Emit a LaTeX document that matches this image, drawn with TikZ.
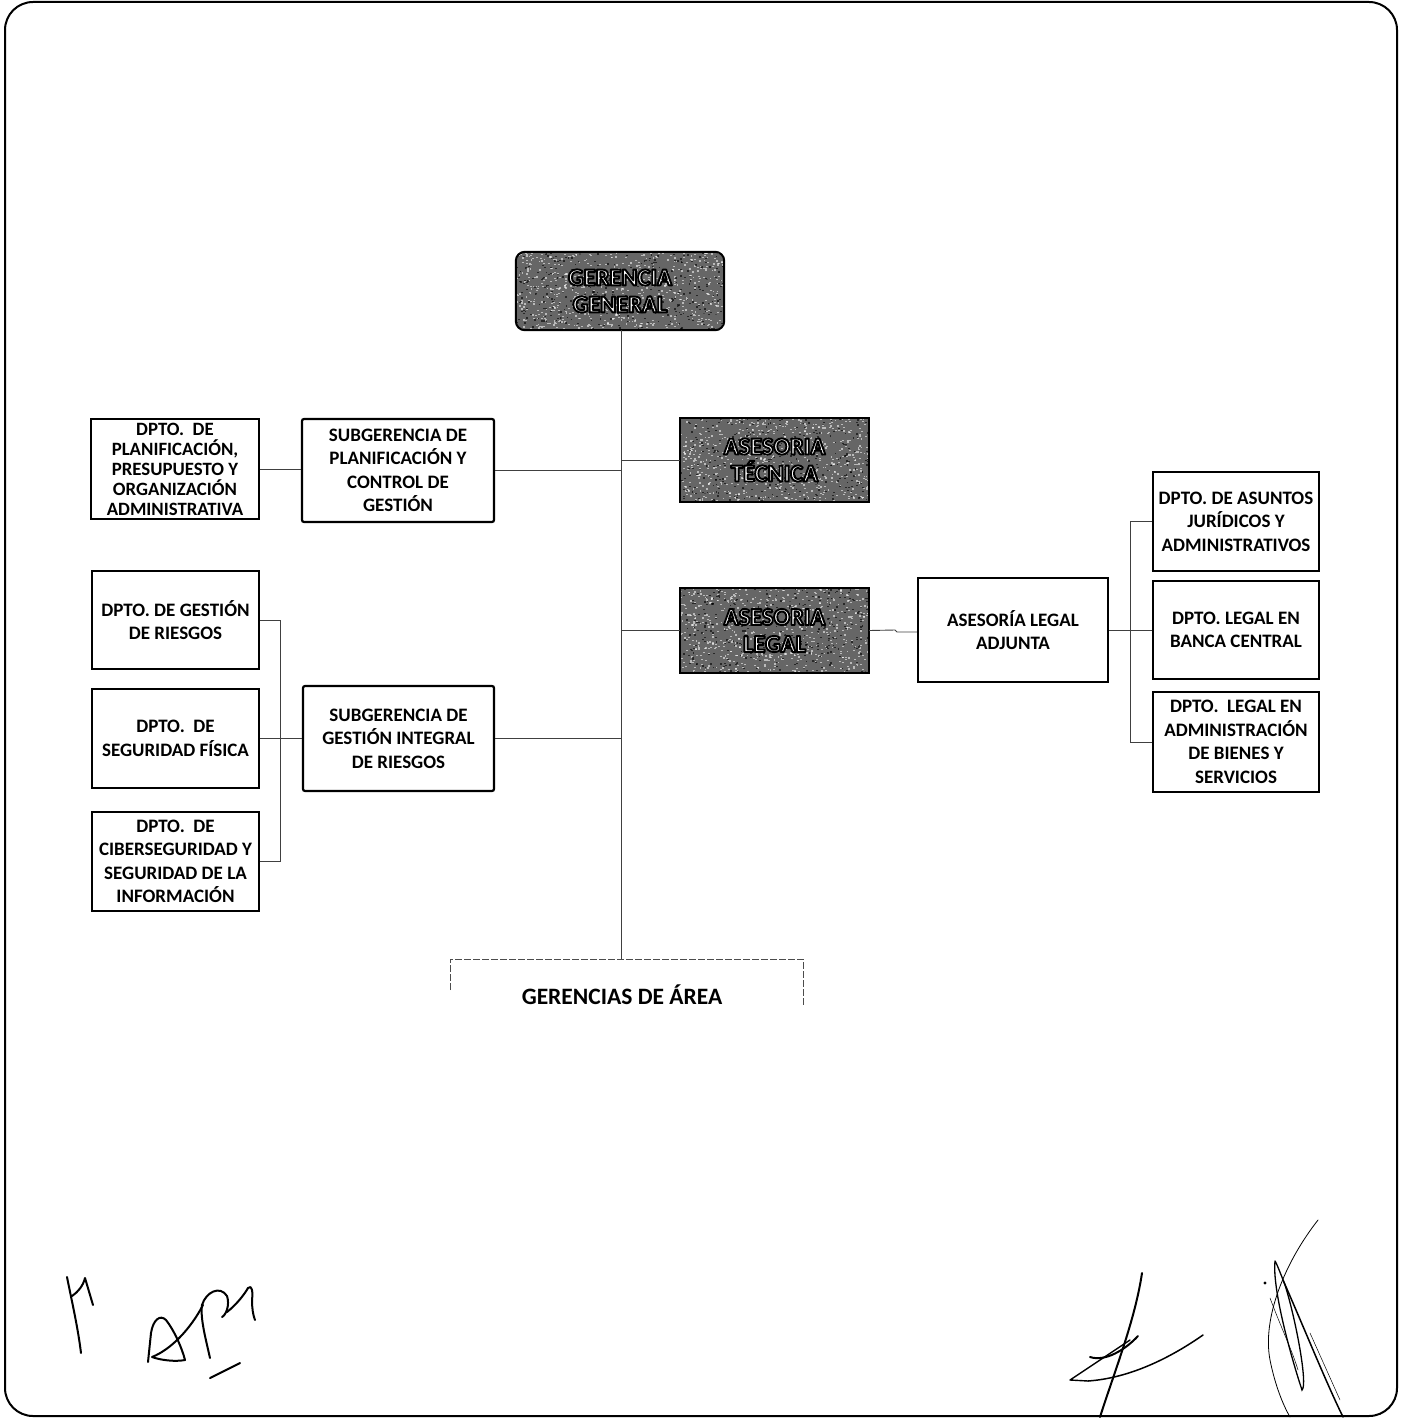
\documentclass[tikz,border=0pt]{standalone}
\usepackage{fontspec}
\setmainfont{Carlito}
\usetikzlibrary{calc}

% grainy fill for the dark header boxes: x0, y0, width, height
\newcommand\grainfill[4]{%
  \begin{scope}
    \clip[rounded corners=8pt] (#1,#2) rectangle ++(#3,#4);
    \foreach \g in {1,...,650}{%
      \pgfmathsetmacro\gx{#1+rnd*#3}%
      \pgfmathsetmacro\gy{#2+rnd*#4}%
      \fill[white,opacity=.55] (\gx,\gy) rectangle ++(1.8,1.3);
    }
    \foreach \g in {1,...,350}{%
      \pgfmathsetmacro\gx{#1+rnd*#3}%
      \pgfmathsetmacro\gy{#2+rnd*#4}%
      \fill[black,opacity=.6] (\gx,\gy) rectangle ++(1.8,1.3);
    }
  \end{scope}}

% white letters with a black outline (fill + stroke text rendering)
\newcommand\outlined[1]{%
  \special{pdf:literal direct 2 Tr 1.9 w 1 j 0 G}#1\special{pdf:literal direct 0 Tr}}

\tikzset{
  unitbox/.style={draw=black, line width=2.2pt, fill=white, inner sep=0pt,
    align=center, font=\bfseries\fontsize{19}{23.5}\selectfont},
  darkbox/.style={fill=black!60, inner sep=0pt},
  darkframe/.style={draw=black, line width=2pt},
  darklabel/.style={align=center, inner sep=0pt, text=white,
    font=\bfseries\fontsize{24.5}{27}\selectfont},
  conn/.style={draw=black!75, line width=0.9pt},
  areaconn/.style={draw=black!70, line width=0.9pt, dash pattern=on 7pt off 2pt},
  sig/.style={line width=2pt, line cap=round, line join=round},
  thinsig/.style={line width=0.8pt, line cap=round},
}

\begin{document}
\begin{tikzpicture}[x=1pt,y=-1pt]
\pgfmathsetseed{4242}
\useasboundingbox (0,0) rectangle (1404,1418);

% page frame
\draw[line width=2pt, rounded corners=28pt] (5,2) rectangle (1397,1416);

% ---- top management
\node[darkbox, rounded corners=9pt, minimum width=208pt, minimum height=78pt] (gg) at (620,291) {};
\grainfill{516}{252}{208}{78}
\draw[darkframe, rounded corners=9pt] (gg.north west) rectangle (gg.south east);
\node[darklabel] (ggt) at (gg.center) {\outlined{GERENCIA}\\\outlined{GENERAL}};

% ---- advisory units
\node[darkbox, minimum width=189pt, minimum height=84pt] (at) at (774.5,460) {};
\grainfill{680}{418}{189}{84}
\draw[darkframe] (at.north west) rectangle (at.south east);
\node[darklabel] (att) at (at.center) {\outlined{ASESORIA}\\\outlined{TÉCNICA}};

\node[darkbox, minimum width=189pt, minimum height=85pt] (al) at (774.5,630.5) {};
\grainfill{680}{588}{189}{85}
\draw[darkframe] (al.north west) rectangle (al.south east);
\node[darklabel] (alt) at (al.center) {\outlined{ASESORIA}\\\outlined{LEGAL}};

\node[unitbox, minimum width=190pt, minimum height=104pt] (ala) at (1013,630) {ASESORÍA LEGAL\\ADJUNTA};

% ---- legal departments
\node[unitbox, minimum width=166pt, minimum height=99pt] (r1) at (1236,521.5) {DPTO. DE ASUNTOS\\JURÍDICOS Y\\ADMINISTRATIVOS};
\node[unitbox, minimum width=166pt, minimum height=98pt] (r2) at (1236,630) {DPTO. LEGAL EN\\BANCA CENTRAL};
\node[unitbox, minimum width=166pt, minimum height=100pt] (r3) at (1236,742) {DPTO.~ LEGAL EN\\ADMINISTRACIÓN\\DE BIENES Y\\SERVICIOS};

% ---- planning branch
\node[unitbox, rounded corners=2pt, minimum width=192pt, minimum height=103pt] (sgp) at (398,470.5) {SUBGERENCIA DE\\PLANIFICACIÓN Y\\CONTROL DE\\GESTIÓN};
\node[unitbox, minimum width=168pt, minimum height=100pt, font=\bfseries\fontsize{18.8}{20}\selectfont] (dpp) at (175,469) {DPTO.~ DE\\PLANIFICACIÓN,\\PRESUPUESTO Y\\ORGANIZACIÓN\\ADMINISTRATIVA};

% ---- risk branch
\node[unitbox, rounded corners=2pt, minimum width=191pt, minimum height=105pt] (sgr) at (398.5,738.5) {SUBGERENCIA DE\\GESTIÓN INTEGRAL\\DE RIESGOS};
\node[unitbox, minimum width=167pt, minimum height=98pt] (l1) at (175.5,620) {DPTO. DE GESTIÓN\\DE RIESGOS};
\node[unitbox, minimum width=167pt, minimum height=99pt] (l2) at (175.5,738.5) {DPTO.~ DE\\SEGURIDAD FÍSICA};
\node[unitbox, minimum width=167pt, minimum height=99pt] (l3) at (175.5,861.5) {DPTO.~ DE\\CIBERSEGURIDAD Y\\SEGURIDAD DE LA\\INFORMACIÓN};

% ---- area management
\coordinate (ga) at (621,959);
\coordinate (gaL) at (450,990);
\coordinate (gaR) at (803,1005);
\node[inner sep=0pt, font=\bfseries\fontsize{23.5}{26}\selectfont] (gat) at (622,995) {GERENCIAS DE ÁREA};

% ---- connectors
\draw[conn] (gg.south -| 621,0) -- (ga);
\draw[conn] (sgp.east) -- (sgp.east -| ga);
\draw[conn] (sgr.east) -- (sgr.east -| ga);
\draw[conn] (at.west -| ga) -- (at.west);
\draw[conn] (al.west -| ga) -- (al.west);
\draw[conn] (al.east) -- (895,630) -- (897,632) -- (ala.west |- 0,632);
\draw[conn] (dpp.east) -- (sgp.west |- dpp.east);

% legal departments bracket
\coordinate (rb) at (1130,630);
\draw[conn] (ala.east) -- (rb);
\draw[conn] (r1.west) -- (r1.west -| rb) -- (r3.west -| rb) -- (r3.west);
\draw[conn] (rb) -- (r2.west);

% risk departments bracket
\coordinate (lb) at (280,738.5);
\draw[conn] (l1.east) -- (l1.east -| lb) -- (l3.east -| lb) -- (l3.east);
\draw[conn] (l2.east) -- (sgr.west);

% area bracket
\draw[areaconn] (gaL) -- (gaL |- ga) -- (gaR |- ga) -- (gaR);

% ---- signatures
\draw[sig] (67,1277) .. controls (72,1302) and (78,1328) .. (81,1353);
\draw[sig] (72,1296) .. controls (78,1292) and (83,1286) .. (85,1278) -- (93,1305);
\draw[sig] (148,1362) -- (151,1333) .. controls (153,1320) and (160,1314) .. (166,1320)
  .. controls (174,1330) and (182,1348) .. (185,1360) .. controls (175,1362) and (160,1360) .. (152,1357)
  .. controls (170,1350) and (190,1330) .. (203,1305);
\draw[sig] (210,1358) .. controls (206,1340) and (200,1318) .. (202,1305)
  .. controls (206,1292) and (220,1285) .. (227,1296) .. controls (230,1305) and (226,1315) .. (222,1317);
\draw[sig] (227,1312) .. controls (236,1305) and (244,1295) .. (248,1288)
  .. controls (252,1284) and (253,1292) .. (252,1300) .. controls (252,1308) and (253,1315) .. (255,1320);
\draw[sig] (210,1378) -- (240,1363);

\draw[sig] (1142,1273) .. controls (1135,1320) and (1115,1370) .. (1100,1417);
\draw[sig] (1090,1357) .. controls (1105,1362) and (1125,1350) .. (1138,1336);
\draw[sig, line width=1.4pt] (1130,1340) -- (1070,1380) -- (1088,1381);
\draw[sig, line width=1.5pt] (1088,1381) .. controls (1130,1378) and (1170,1358) .. (1203,1335);

\draw[thinsig] (1318,1220) .. controls (1285,1262) and (1262,1318) .. (1270,1360) .. controls (1275,1385) and (1283,1405) .. (1290,1417);
\draw[thinsig, line width=1.3pt] (1275,1261) .. controls (1272,1290) and (1292,1360) .. (1302,1390)
  .. controls (1308,1385) and (1296,1320) .. (1285,1285) .. controls (1280,1272) and (1276,1262) .. (1275,1261);
\draw[thinsig, line width=1.5pt] (1283,1280) .. controls (1305,1330) and (1325,1380) .. (1343,1417);
\fill (1265,1283) circle (1.6pt);
\draw[thinsig, line width=0.5pt] (1310,1333) -- (1340,1400);
\draw[thinsig, line width=0.5pt] (1270,1298) .. controls (1282,1330) and (1292,1350) .. (1298,1370);
\end{tikzpicture}
\end{document}
